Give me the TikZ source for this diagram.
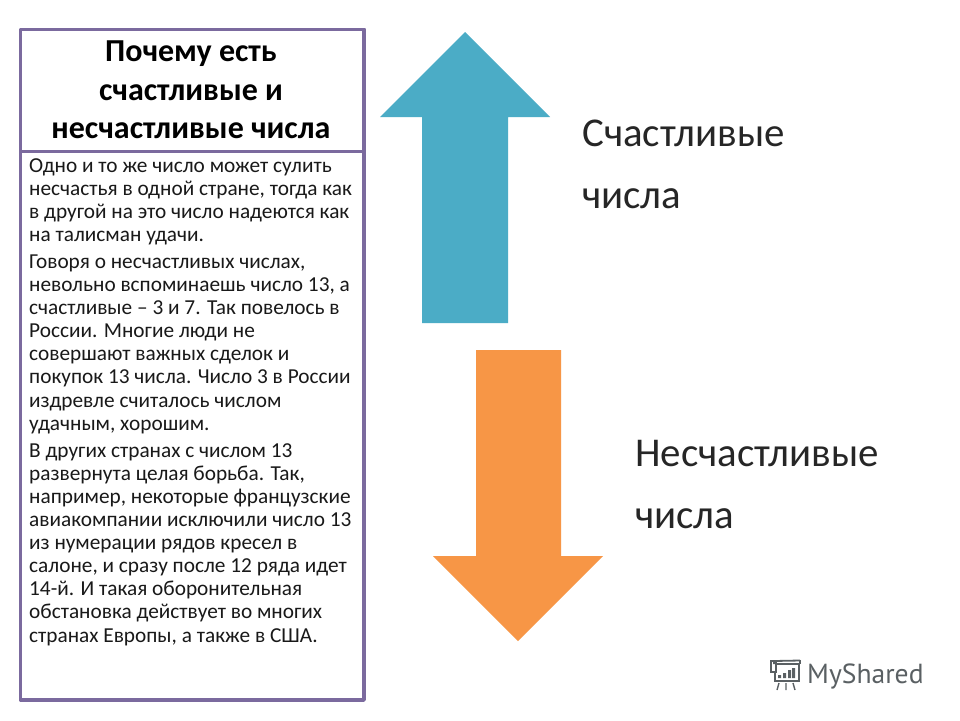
\documentclass[tikz,border=0pt]{standalone}
\usepackage{fontspec}
\setmainfont{Carlito}
\newfontfamily\logofont{PT Sans}
\definecolor{framec}{HTML}{7B6A9E}
\definecolor{upc}{HTML}{4BACC6}
\definecolor{downc}{HTML}{F79646}
\definecolor{logoc}{HTML}{5A6063}
\tikzset{
  panel/.style={draw=framec,line width=3.4pt,fill=white,line join=round},
  titletext/.style={anchor=center,align=center,font=\fontsize{32}{38.5}\selectfont\bfseries,text=black,inner sep=0pt},
  bodytext/.style={anchor=north west,align=left,font=\fontsize{21.3}{23.1}\selectfont,text=black!90,inner sep=0pt},
  bigtext/.style={anchor=base west,font=\fontsize{40.9}{44}\selectfont,text=black!85,inner sep=0pt},
  logotext/.style={anchor=base west,font=\logofont\fontsize{27.6}{30}\selectfont,text=logoc,inner sep=0pt},
  logoline/.style={draw=logoc,line width=1.8pt}
}
\begin{document}
\begin{tikzpicture}[x=1pt,y=-1pt]
\useasboundingbox (0,0) rectangle (960,720);
\fill[white] (0,0) rectangle (960,720);
\draw[panel] (20.5,29.5) rectangle (364,700);
\draw[panel] (20.5,29.5) rectangle (364,151.5);
\node[titletext] (title) at (191,90) {Почему есть\\счастливые и\\несчастливые числа};
\node[bodytext] (body) at (29,158) {Одно и то же число может сулить\\
несчастья в одной стране, тогда как\\
в другой на это число надеются как\\
на талисман удачи.\\[4pt]
Говоря о несчастливых числах,\\
невольно вспоминаешь число 13, а\\
счастливые – 3 и 7. Так повелось в\\
России. Многие люди не\\
совершают важных сделок и\\
покупок 13 числа. Число 3 в России\\
издревле считалось числом\\
удачным, хорошим.\\[4pt]
В других странах с числом 13\\
развернута целая борьба. Так,\\
например, некоторые французские\\
авиакомпании исключили число 13\\
из нумерации рядов кресел в\\
салоне, и сразу после 12 ряда идет\\
14-й. И такая оборонительная\\
обстановка действует во многих\\
странах Европы, а также в США.};
\fill[upc] (465,32) -- (550,117) -- (508,117) -- (508,323) -- (422,323) -- (422,117) -- (380,117) -- cycle;
\fill[downc] (476,350) -- (561,350) -- (561,556) -- (603,556) -- (518,641) -- (433,556) -- (476,556) -- cycle;
\node[bigtext] (lucky1) at (582,146) {Счастливые};
\node[bigtext] (lucky2) at (582,208) {числа};
\node[bigtext] (unlucky1) at (635,466) {Несчастливые};
\node[bigtext] (unlucky2) at (635,528) {числа};
\node[logotext] (logo) at (807,683) {MyShared};
\draw[logoline,line join=round] (774,664) -- (774,661) -- (800,660.5);
\draw[logoline] (771,661) rectangle (776,672);
\draw[logoline] (776,664) -- (799,664) -- (799,681) -- (775,681) -- (775,672);
\draw[logoline] (800,660) -- (800,664);
\fill[logoc] (778,675) rectangle (781,678) (783,673) rectangle (786,678) (788,670) rectangle (791,678) (792,668) rectangle (795,678);
\draw[logoline,line width=1.4pt] (779,683) -- (777,690) (786,683) -- (786,690) (793,683) -- (795,690);
\end{tikzpicture}
\end{document}
